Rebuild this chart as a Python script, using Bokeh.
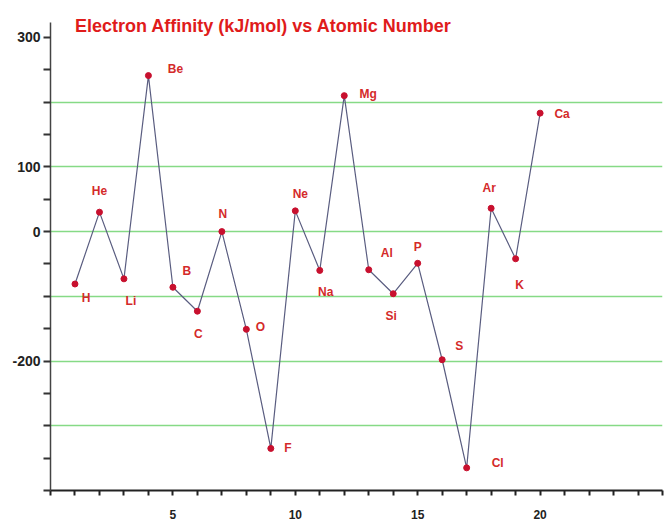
from bokeh.plotting import figure
from bokeh.models import ColumnDataSource, Range1d, FixedTicker, Label
from bokeh.embed import file_html
from bokeh.resources import INLINE

# ---- data ----
elements = ["H", "He", "Li", "Be", "B", "C", "N", "O", "F", "Ne",
            "Na", "Mg", "Al", "Si", "P", "S", "Cl", "Ar", "K", "Ca"]
atomic_number = list(range(1, 21))
affinity = [-81, 30, -73, 241, -86, -123, 0, -151, -335, 32,
            -60, 210, -59, -96, -49, -198, -365, 36, -42, 183]
x_tick_labels = {5: "5", 10: "10", 15: "15", 20: "20"}
y_tick_labels = {300: "300", 100: "100", 0: "0", -200: "-200"}

# label placement (screen pixels relative to point)
lab_dx = [11, 0, 7, 27, 14, 1, 1, 14, 17, 5, 6, 24, 18, -2, 0, 17, 31, -2, 4, 22]
lab_dy = [14, -21, 22, -7, -16, 23, -18, -2, 0, -17, 22, -2, -17, 22, -16, -14, -5, -20, 26, 1]

src = ColumnDataSource(dict(x=atomic_number, y=affinity, name=elements,
                            dx=lab_dx, dy=lab_dy))

p = figure(width=668, height=526, output_backend="svg", toolbar_location=None,
           x_range=Range1d(0, 25), y_range=Range1d(-400, 357),
           min_border_left=50, min_border_right=6, min_border_top=0,
           min_border_bottom=36)
p.outline_line_color = None
p.background_fill_color = "white"
p.border_fill_color = "white"

# grid
p.xgrid.visible = False
p.ygrid.ticker = FixedTicker(ticks=[-300, -200, -100, 0, 100, 200])
p.ygrid.grid_line_color = "#86da86"
p.ygrid.grid_line_width = 1.4

# axes
p.xaxis.ticker = FixedTicker(ticks=list(range(0, 26)))
p.xaxis.major_label_overrides = {i: x_tick_labels.get(i, "") for i in range(0, 26)}
p.xaxis.axis_line_color = "#222222"
p.xaxis.axis_line_width = 2
p.xaxis.major_tick_line_color = "#222222"
p.xaxis.major_tick_line_width = 2
p.xaxis.major_tick_in = 0
p.xaxis.major_tick_out = 5
p.xaxis.minor_tick_line_color = None
p.xaxis.major_label_standoff = 14
p.xaxis.major_label_text_font = "Liberation Sans"
p.xaxis.major_label_text_font_style = "bold"
p.xaxis.major_label_text_font_size = "12px"
p.xaxis.major_label_text_color = "#222222"

yt = list(range(-400, 301, 50))
p.yaxis.ticker = FixedTicker(ticks=yt)
p.yaxis.bounds = (-400, 323)
p.yaxis.major_label_overrides = {t: y_tick_labels.get(t, "") for t in yt}
p.yaxis.axis_line_color = "#444444"
p.yaxis.axis_line_width = 1.5
p.yaxis.major_tick_line_color = "#333333"
p.yaxis.major_tick_line_width = 2
p.yaxis.major_tick_in = 0
p.yaxis.major_tick_out = 7
p.yaxis.minor_tick_line_color = None
p.yaxis.major_label_standoff = 3
p.yaxis.major_label_text_font = "Liberation Sans"
p.yaxis.major_label_text_font_style = "bold"
p.yaxis.major_label_text_font_size = "14px"
p.yaxis.major_label_text_color = "#222222"

# data
p.line("x", "y", source=src, line_color="#5a5d80", line_width=1.2)
p.scatter("x", "y", source=src, size=6, fill_color="#c8102e", line_color="#c8102e")
p.text("x", "y", text="name", source=src, x_offset="dx", y_offset="dy",
       text_align="center", text_baseline="middle",
       text_font={"value": "Liberation Sans"}, text_font_style="bold",
       text_font_size="12px", text_color="#d42a2a")

title = Label(x=1, y=318, text="Electron Affinity (kJ/mol) vs Atomic Number",
              text_font="Liberation Sans", text_font_style="bold",
              text_font_size="18px", text_color="#e01b1b",
              text_align="left", text_baseline="alphabetic")
p.add_layout(title)

open("out.html", "w").write(file_html(p, INLINE))
